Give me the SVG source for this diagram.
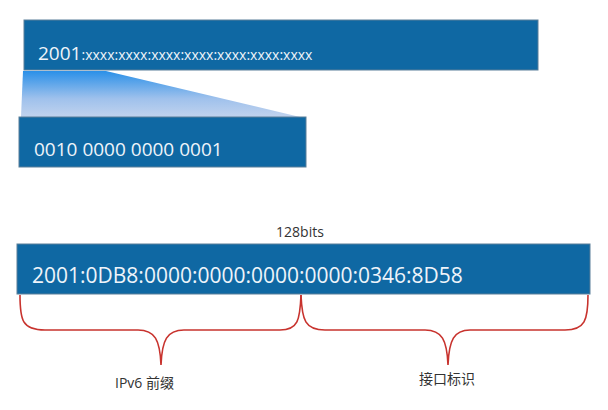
<svg xmlns="http://www.w3.org/2000/svg" width="608" height="410" viewBox="0 0 608 410">
<style>
.bar{fill:#0f68a3;stroke:#5a7f99;stroke-width:1}
.wt{fill:#eef4fa;font-family:"Open Sans","Liberation Sans",sans-serif}
.br{fill:none;stroke:#c8332e;stroke-width:1.6}
.lb{fill:#333;font-family:"Open Sans","Noto Sans CJK SC",sans-serif;font-size:14px}
</style>
<defs>
<linearGradient id="g" x1="0" y1="0" x2="0" y2="1">
<stop offset="0" stop-color="#2a90e8"/><stop offset="0.6" stop-color="#9fc1ec"/><stop offset="1" stop-color="#c1d3ee"/>
</linearGradient>
</defs>
<g id="top">
<rect class="bar" x="24" y="20" width="514" height="50"/>
<text class="wt" x="38" y="60" font-size="19">2001<tspan font-size="14">:xxxx:xxxx:xxxx:xxxx:xxxx:xxxx:xxxx</tspan></text>
</g>
<polygon points="23,71 106,71 300,117 21,117" fill="url(#g)"/>
<g id="bin">
<rect class="bar" x="19" y="117" width="287" height="50"/>
<text class="wt" x="34" y="156" font-size="19">0010 0000 0000 0001</text>
</g>
<g id="addr">
<text x="300" y="237" text-anchor="middle" font-family="Open Sans,Liberation Sans,sans-serif" font-size="14" fill="#333">128bits</text>
<rect class="bar" x="17" y="244" width="573" height="50"/>
<text class="wt" x="32" y="283" font-size="21">2001:0DB8:0000:0000:0000:0000:0346:8D58</text>
</g>
<g id="connectors">
<path class="br" d="M20,295 C20,320 22,330 45,330 L138,330 C155,330 160,340 161,365 C162,340 167,330 184,330 L280,330 C298,330 300,320 301,295"/>
<path class="br" d="M301,295 C302,320 305,330 325,330 L425,330 C442,330 447,340 448,365 C449,340 454,330 470,330 L565,330 C585,330 588,320 588,295"/>
</g>
<g id="labels">
<text class="lb" x="115" y="388">IPv6 前缀</text>
<text class="lb" x="447" y="384" text-anchor="middle">接口标识</text>
</g>
</svg>
